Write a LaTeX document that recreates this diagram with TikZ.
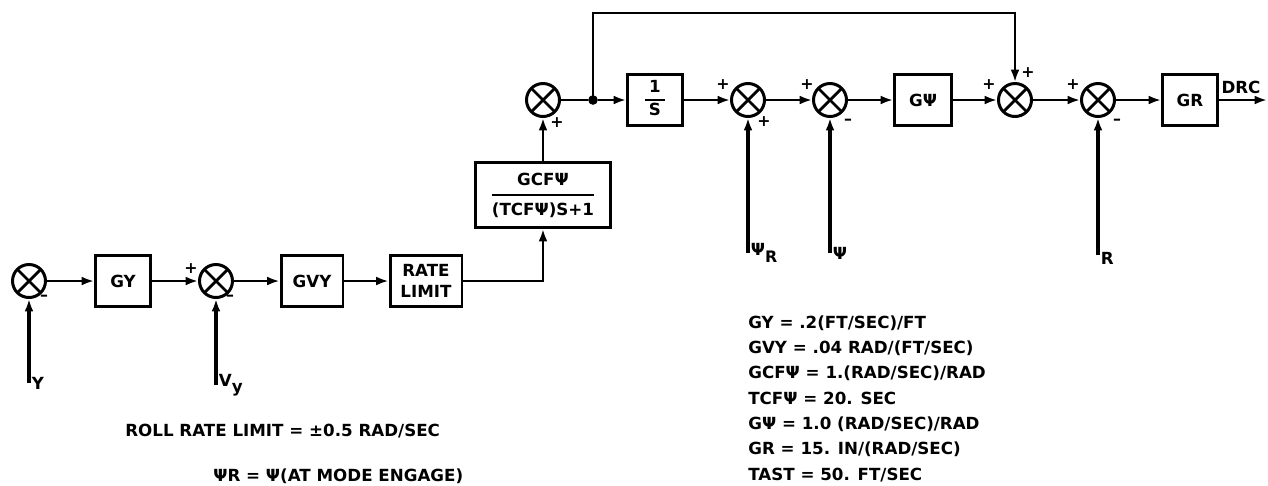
\documentclass[tikz,border=0pt]{standalone}
\usepackage{fontspec}
\setmainfont{DejaVu Sans}
\usetikzlibrary{arrows.meta, positioning}
\setlength{\arrayrulewidth}{1.2pt}
\newcommand{\txtsize}{\fontsize{9.5}{11.5}\selectfont}

\begin{document}
\begin{tikzpicture}[
    x=0.02cm, y=-0.02cm,
    font=\bfseries\txtsize,
    sumnode/.style={circle, draw, line width=1.7pt, minimum size=0.66cm,
                    inner sep=0pt, path picture={
                      \draw[line width=1.6pt]
                        (path picture bounding box.north west) -- (path picture bounding box.south east)
                        (path picture bounding box.north east) -- (path picture bounding box.south west);}},
    blockbox/.style={rectangle, draw, line width=1.7pt, minimum width=1.1cm,
                     minimum height=1.02cm, inner sep=1pt, align=center},
    sgn/.style={inner sep=0pt, font=\bfseries\small},
    flow/.style={line width=1.3pt, -{Latex[length=7pt,width=5pt]}},
    feed/.style={line width=1.8pt, -{Latex[length=7pt,width=5pt]}},
    lbl/.style={anchor=west, inner sep=1.5pt},
    note/.style={anchor=base west, inner sep=0pt},
  ]
  \useasboundingbox (0,0) rectangle (1268,485);

  % lower row
  \node[sumnode] (s1) at (29,281) {};
  \node[blockbox] (gy) at (123,281) {GY};
  \node[sumnode] (s2) at (216,281) {};
  \node[blockbox, minimum width=1.24cm] (gvy) at (312,281) {GVY};
  \node[blockbox, minimum width=1.44cm] (rl) at (426,281) {RATE\\LIMIT};
  \node[blockbox, minimum width=2.7cm, minimum height=1.3cm] (gcf) at (543,195)
    {\renewcommand{\arraystretch}{1.35}\begin{tabular}{@{}c@{}}GCFΨ\\\hline (TCFΨ)S+1\end{tabular}};

  % upper row
  \node[sumnode] (s3) at (543,100) {};
  \node[circle, fill, inner sep=0pt, minimum size=5.5pt] (tap) at (593,100) {};
  \node[blockbox] (integ) at (655,100)
    {\begin{tabular}{@{\hspace{2pt}}c@{\hspace{2pt}}}1\\\hline S\end{tabular}};
  \node[sumnode] (s4) at (748,100) {};
  \node[sumnode] (s5) at (830,100) {};
  \node[blockbox, minimum width=1.14cm] (gpsi) at (923,100) {GΨ};
  \node[sumnode] (s6) at (1015,100) {};
  \node[sumnode] (s7) at (1098,100) {};
  \node[blockbox] (gr) at (1190,100) {GR};
  \coordinate (out) at (1267,100);
  \coordinate (fb) at (1015,13);

  % measured inputs
  \coordinate (yin) at (29,383);
  \coordinate (vyin) at (216,385);
  \coordinate (psirin) at (748,253);
  \coordinate (psiin) at (830,253);
  \coordinate (rin) at (1098,255);

  % forward path
  \draw[flow] (s1) -- (gy);
  \draw[flow] (gy) -- (s2);
  \draw[flow] (s2) -- (gvy);
  \draw[flow] (gvy) -- (rl);
  \draw[flow] (rl) -| (gcf);
  \draw[flow] (gcf) -- (s3);
  \draw[line width=1.3pt] (s3) -- (tap);
  \draw[flow] (tap) -- (integ);
  \draw[flow] (integ) -- (s4);
  \draw[flow] (s4) -- (s5);
  \draw[flow] (s5) -- (gpsi);
  \draw[flow] (gpsi) -- (s6);
  \draw[flow] (s6) -- (s7);
  \draw[flow] (s7) -- (gr);
  \draw[flow] (gr) -- (out);
  \draw[flow] (tap.center) |- (fb) -- (s6);

  % inputs from below
  \draw[feed] (yin) -- (s1);
  \draw[feed] (vyin) -- (s2);
  \draw[feed] (psirin) -- (s4);
  \draw[feed] (psiin) -- (s5);
  \draw[feed] (rin) -- (s7);

  \node[lbl] (ylab) at (yin) {Y};
  \node[lbl] (vylab) at (vyin) {V\raisebox{-3.5pt}{y}};
  \node[lbl] (psirlab) at (psirin) {Ψ\raisebox{-4pt}{\small R}};
  \node[lbl] (psilab) at (psiin) {Ψ};
  \node[lbl] (rlab) at ([yshift=-2]rin) {R};
  \node[anchor=south, inner sep=1pt] (drc) at (1241,96) {DRC};

  % signs
  \node[sgn] (s1m) at ([shift={(15,17)}]s1) {--};
  \node[sgn] (s2p) at ([shift={(-25,-12)}]s2) {+};
  \node[sgn] (s2m) at ([shift={(14,17)}]s2) {--};
  \node[sgn] (s3p) at ([shift={(14,23)}]s3) {+};
  \node[sgn] (s4p) at ([shift={(-25,-15)}]s4) {+};
  \node[sgn] (s4q) at ([shift={(16,22)}]s4) {+};
  \node[sgn] (s5p) at ([shift={(-23,-15)}]s5) {+};
  \node[sgn] (s5m) at ([shift={(18,22)}]s5) {--};
  \node[sgn] (s6p) at ([shift={(-26,-15)}]s6) {+};
  \node[sgn] (s6q) at ([shift={(13,-27)}]s6) {+};
  \node[sgn] (s7p) at ([shift={(-25,-15)}]s7) {+};
  \node[sgn] (s7m) at ([shift={(19,22)}]s7) {--};

  % notes
  \node[note] (rrl) at (125,436) {ROLL RATE LIMIT = ±0.5 RAD/SEC};
  \node[note] (psieq) at (213,481) {ΨR = Ψ(AT MODE ENGAGE)};
  \node[note] (k1) at (748,328) {GY = .2(FT/SEC)/FT};
  \node[note] (k2) at (748,353) {GVY = .04 RAD/(FT/SEC)};
  \node[note] (k3) at (748,378) {GCFΨ = 1.(RAD/SEC)/RAD};
  \node[note] (k4) at (748,404) {TCFΨ = 20. SEC};
  \node[note] (k5) at (748,429) {GΨ = 1.0 (RAD/SEC)/RAD};
  \node[note] (k6) at (748,454) {GR = 15. IN/(RAD/SEC)};
  \node[note] (k7) at (748,480) {TAST = 50. FT/SEC};
\end{tikzpicture}
\end{document}
